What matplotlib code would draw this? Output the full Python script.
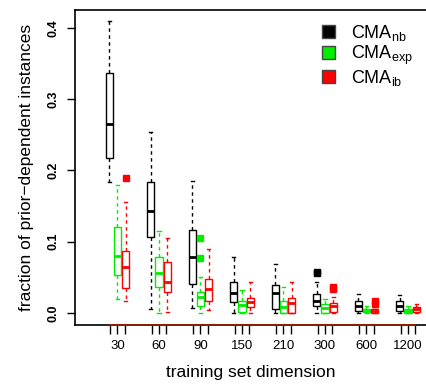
import matplotlib
matplotlib.use('Agg')
import matplotlib.pyplot as plt
from matplotlib.patches import Patch

plt.rcParams['font.family'] = ['Liberation Sans', 'DejaVu Sans']
plt.rcParams['mathtext.fontset'] = 'custom'
plt.rcParams['mathtext.rm'] = 'Liberation Sans'
plt.rcParams['mathtext.it'] = 'Liberation Sans'

# training set dimensions
dims = ['30', '60', '90', '150', '210', '300', '600', '1200']

# box statistics per series: whisker low, q1, median, q3, whisker high
nb_lo = [0.184, 0.006, 0.007, 0.000, 0.000, 0.000, 0.000, 0.000]
nb_q1 = [0.218, 0.107, 0.041, 0.015, 0.006, 0.009, 0.002, 0.002]
nb_med = [0.265, 0.143, 0.079, 0.028, 0.028, 0.017, 0.010, 0.009]
nb_q3 = [0.336, 0.183, 0.117, 0.044, 0.039, 0.026, 0.017, 0.016]
nb_hi = [0.409, 0.254, 0.185, 0.078, 0.068, 0.044, 0.027, 0.025]
nb_out = [[], [], [], [], [], [0.058, 0.056], [], []]

exp_lo = [0.019, 0.000, 0.000, 0.000, 0.000, 0.000, 0.000, 0.000]
exp_q1 = [0.053, 0.036, 0.010, 0.001, 0.000, 0.000, 0.001, 0.000]
exp_med = [0.080, 0.056, 0.022, 0.011, 0.008, 0.007, 0.003, 0.003]
exp_q3 = [0.120, 0.078, 0.029, 0.017, 0.017, 0.013, 0.006, 0.005]
exp_hi = [0.180, 0.115, 0.051, 0.032, 0.037, 0.019, 0.010, 0.010]
exp_out = [[], [], [0.105, 0.077], [], [], [], [], []]

ib_lo = [0.017, 0.001, 0.004, 0.000, 0.000, 0.000, 0.000, 0.000]
ib_q1 = [0.035, 0.029, 0.017, 0.008, 0.000, 0.001, 0.000, 0.001]
ib_med = [0.064, 0.043, 0.034, 0.015, 0.014, 0.009, 0.002, 0.005]
ib_q3 = [0.087, 0.072, 0.047, 0.021, 0.021, 0.014, 0.005, 0.008]
ib_hi = [0.155, 0.105, 0.090, 0.043, 0.044, 0.023, 0.006, 0.012]
ib_out = [[0.189], [], [], [], [], [0.037, 0.034], [0.016, 0.012], []]

series = [
    ('$\\mathrm{CMA}_{\\mathrm{nb}}$', 'black', '#333333', -0.2, -0.17,
     nb_lo, nb_q1, nb_med, nb_q3, nb_hi, nb_out),
    ('$\\mathrm{CMA}_{\\mathrm{exp}}$', '#00ee00', '#33ff33', 0.0, 0.0,
     exp_lo, exp_q1, exp_med, exp_q3, exp_hi, exp_out),
    ('$\\mathrm{CMA}_{\\mathrm{ib}}$', '#ff0000', '#ff5555', 0.2, 0.17,
     ib_lo, ib_q1, ib_med, ib_q3, ib_hi, ib_out),
]

fig = plt.figure(figsize=(4.26, 3.86), dpi=100)
ax = fig.add_axes([0.176, 0.158, 0.824, 0.816])

base = list(range(1, len(dims) + 1))
tick_pos, tick_col, tick_lab = [], [], []
for name, col, tcol, off, toff, lo, q1, med, q3, hi, out in series:
    stats = []
    for i in range(len(dims)):
        stats.append(dict(whislo=lo[i], q1=q1[i], med=med[i], q3=q3[i],
                          whishi=hi[i], fliers=out[i]))
    pos = [b + off for b in base]
    ax.bxp(stats, positions=pos, widths=0.17, showfliers=True, capwidths=0.08,
           patch_artist=True,
           boxprops=dict(facecolor='white', edgecolor=col, linewidth=1.0),
           medianprops=dict(color=col, linewidth=2.0),
           whiskerprops=dict(color=col, linewidth=1.0, linestyle=(0, (2.5, 2.5))),
           capprops=dict(color=col, linewidth=1.0),
           flierprops=dict(marker='s', markersize=4.5, markerfacecolor=col,
                           markeredgecolor=col))
    for i, b in enumerate(base):
        tick_pos.append(b + toff)
        tick_col.append(tcol)
        tick_lab.append(dims[i] if off == 0.0 else '')

ax.set_xlim(-0.024, 8.434)
ax.set_ylim(-0.017, 0.425)

ax.set_xticks(tick_pos)
ax.set_xticklabels(tick_lab, fontsize=9.5)
for t, c in zip(ax.xaxis.get_major_ticks(), tick_col):
    t.tick1line.set_color(c)
ax.tick_params(axis='x', length=6.5, width=1.0, pad=4)

ax.set_yticks([0.0, 0.1, 0.2, 0.3, 0.4])
ax.set_yticklabels(['0.0', '0.1', '0.2', '0.3', '0.4'], rotation=90,
                   va='center', fontsize=9, fontweight='bold')
ax.tick_params(axis='y', length=6, width=1.0, pad=5)

ax.spines['right'].set_visible(False)
for s in ['top', 'left', 'bottom']:
    ax.spines[s].set_linewidth(1.2)
ax.plot([tick_pos[0], tick_pos[-1]], [-0.017, -0.017], color='#882200',
        linewidth=1.4, clip_on=False, zorder=5)

ax.set_xlabel('training set dimension', fontsize=12.5, labelpad=10)
ax.set_ylabel('fraction of prior\u2212dependent instances', fontsize=12.5, labelpad=10)

handles = [Patch(facecolor=c, edgecolor='#444444', label=n)
           for n, c, *_ in series]
ax.legend(handles=handles, loc='upper right', frameon=False, fontsize=13,
          handlelength=0.7, handleheight=0.7, handletextpad=0.9,
          labelspacing=0.05, bbox_to_anchor=(1.0, 1.0), borderaxespad=0.3)

fig.savefig('out.png', dpi=100)
